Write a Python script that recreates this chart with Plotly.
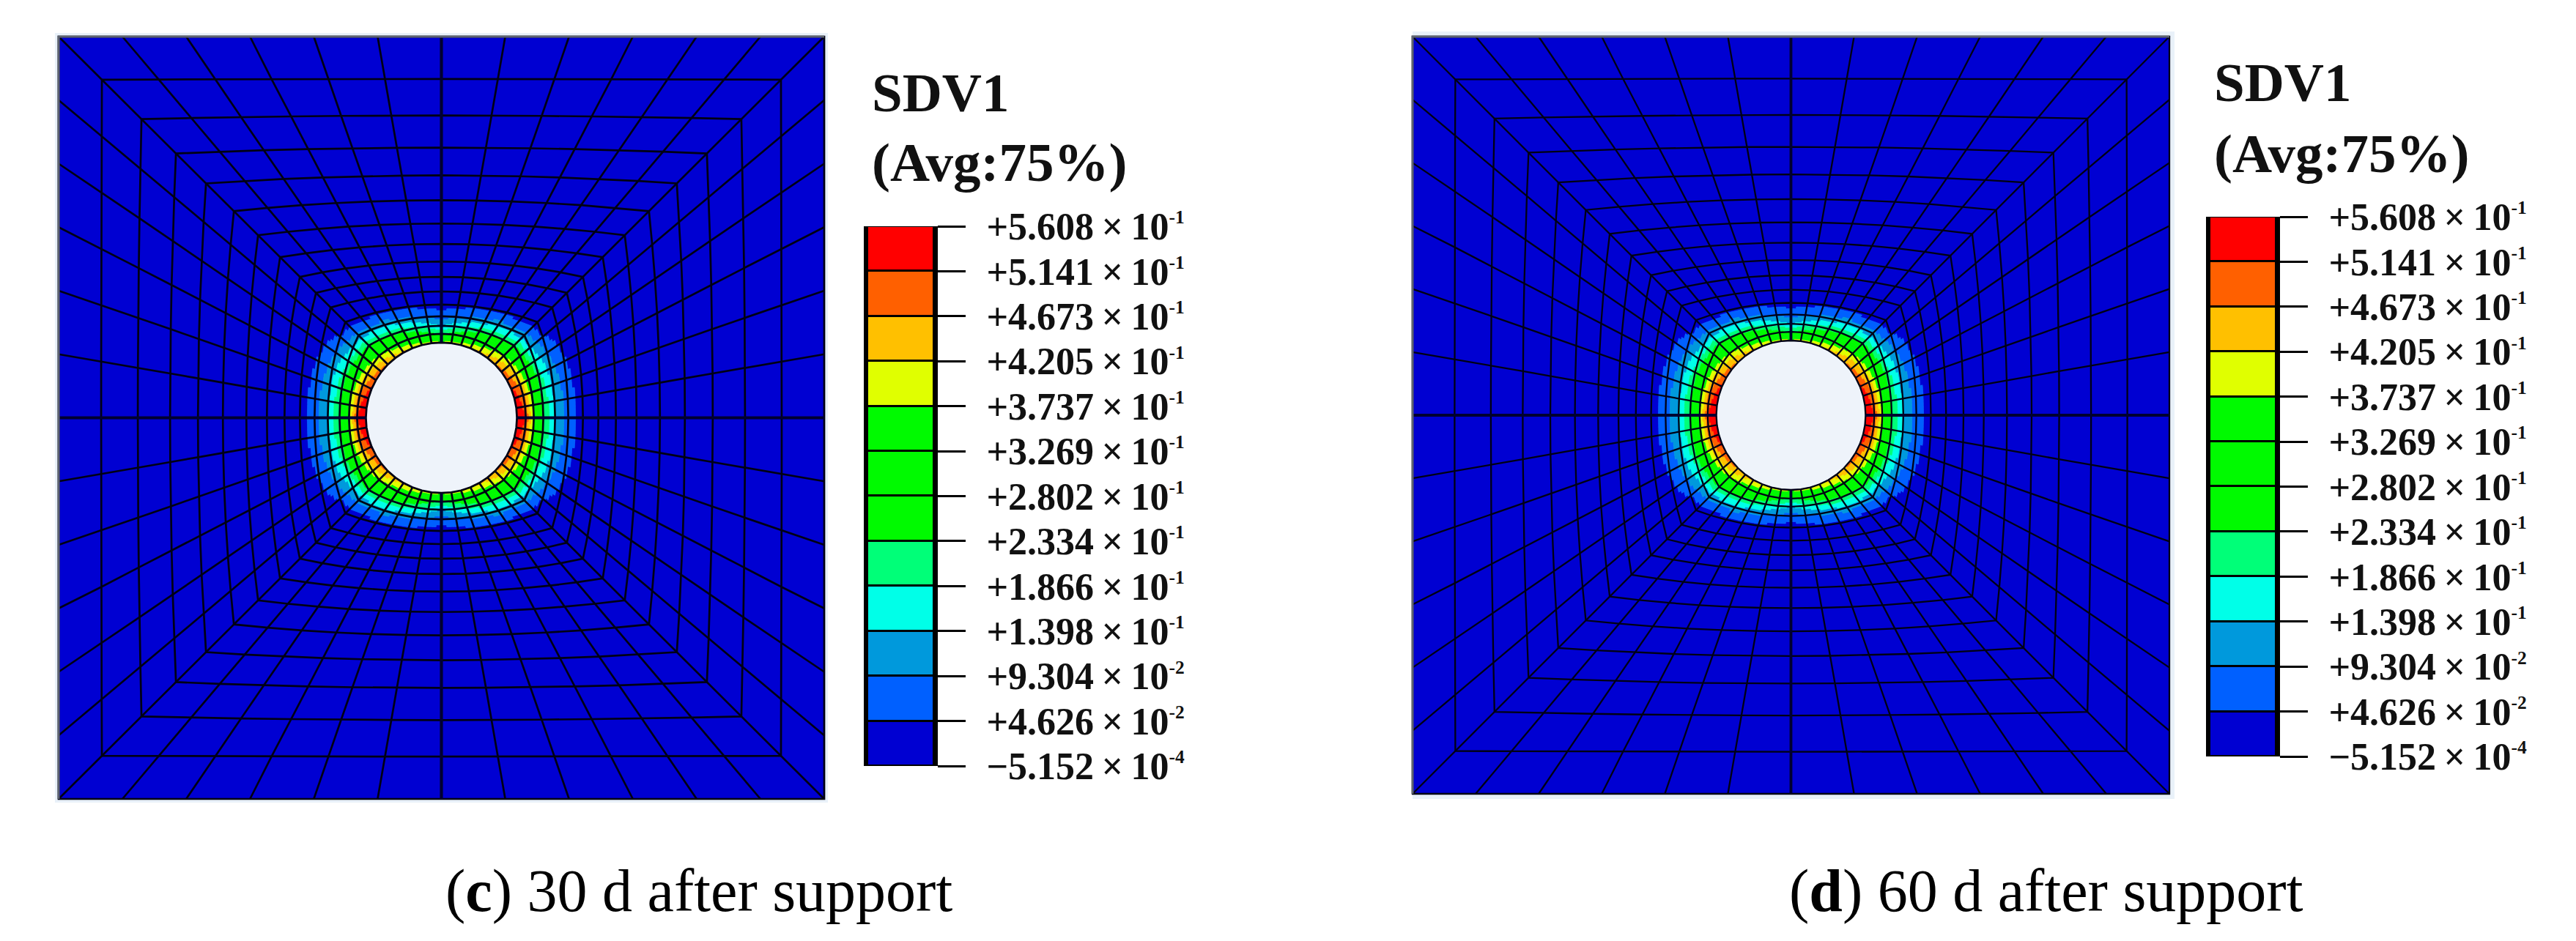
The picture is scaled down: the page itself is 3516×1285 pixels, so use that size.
import math
import plotly.graph_objects as go

W, H = 3516, 1285

# ---- colour scale ----
LEVELS = [-5.152e-4, 4.626e-2, 9.304e-2, 1.398e-1, 1.866e-1, 2.334e-1, 2.802e-1,
          3.269e-1, 3.737e-1, 4.205e-1, 4.673e-1, 5.141e-1, 5.608e-1]
TICK_MANTISSA = ["\u22125.152", "+4.626", "+9.304", "+1.398", "+1.866", "+2.334", "+2.802",
                 "+3.269", "+3.737", "+4.205", "+4.673", "+5.141", "+5.608"]
TICK_EXPONENT = ["-4", "-2", "-2", "-1", "-1", "-1", "-1", "-1", "-1", "-1", "-1", "-1", "-1"]
BAND_COLORS = ["#0000D2", "#0060FF", "#0099DC", "#00FFE8", "#00FF78", "#00FA00", "#00FA00",
               "#00FA00", "#E0FF00", "#FFC000", "#FF6000", "#FF0000"]

# ---- mesh (outermost ring first) ----
RING_AXIS_RADIUS = [522, 464, 414, 370, 332, 298, 266, 238, 214, 193, 173, 155, 139, 126, 115, 103]
RING_CORNER_HALF = [522, 463, 409, 362, 321, 283, 250, 220, 193, 171, 151, 131, 113, 99, 85, 73]
ELEMENTS_PER_SIDE = 12

# ---- SDV1 nodal level (in legend bands), horizontal axis -> vertical axis ----
FIELD_RING_15 = [12.0, 12.0, 11.8, 11.2, 10.8, 10.4, 10.0, 9.7, 9.3, 8.9, 8.6, 8.4, 8.2]
FIELD_RING_14 = [10.8, 10.6, 10.2, 9.6, 9.0, 8.5, 8.0, 7.6, 7.0, 6.5, 6.0, 5.4, 4.8]
FIELD_RING_13 = [7.9, 7.7, 7.4, 7.0, 6.4, 5.6, 5.0, 5.0, 4.9, 4.6, 4.1, 3.5, 3.0]
FIELD_RING_12 = [5.0, 4.9, 4.7, 4.4, 3.8, 3.0, 2.2, 2.4, 2.5, 2.4, 2.1, 1.7, 1.4]
FIELD_RING_11 = [3.0, 2.9, 2.7, 2.4, 1.9, 1.0, 0.3, 0.4, 0.6, 0.7, 0.7, 0.7, 0.6]
FIELD_RING_10 = [1.5, 1.5, 1.3, 1.1, 0.7, 0.2, 0.0, 0.0, 0.1, 0.1, 0.05, 0.0, 0.0]
FIELD_RING_9 = [0.5, 0.5, 0.4, 0.3, 0.1, 0.0, 0.0, 0.0, 0.0, 0.0, 0.0, 0.0, 0.0]
FIELD = {15: FIELD_RING_15, 14: FIELD_RING_14, 13: FIELD_RING_13, 12: FIELD_RING_12,
         11: FIELD_RING_11, 10: FIELD_RING_10, 9: FIELD_RING_9}

# ---- text ----
CAPTION_LETTERS = ["c", "d"]
CAPTION_TEXTS = [" 30 d after support", " 60 d after support"]
LEGEND_TITLE = ["SDV1", "(Avg:75%)"]

HOLE_COLOR = "#EEF3FA"
HALO_COLOR = "#E9F1F9"
FRAME_COLOR = "#5E6470"

# ---- layout of each panel, in page pixels ----
PANELS = [
    dict(cx=602.5, cy=570.5, sx=522.5 / 522, sy=520.5 / 522,
         bar=(1184, 1275), bar_y=(309, 1046), title_x=1188, title_y=(127, 221),
         cap_x=606, line=2.7, halo=(-527, 527, -527, 527)),
    dict(cx=2444.5, cy=567, sx=516.5 / 522, sy=517 / 522,
         bar=(3016, 3107), bar_y=(296, 1033), title_x=3020, title_y=(112, 210),
         cap_x=2440, line=2.3, halo=(-522, 529, -529, 529)),
]
RANGE = 535
CAP_Y = 1216


def node(k, i):
    """Position of ring k, node i (0 = top, clockwise)."""
    r, c = RING_AXIS_RADIUS[k], RING_CORNER_HALF[k]
    a = (r - c) / (1 - math.sqrt(0.5))
    b = r - a
    i %= 4 * ELEMENTS_PER_SIDE
    side = ((i + ELEMENTS_PER_SIDE // 2) // ELEMENTS_PER_SIDE)
    j = i - ELEMENTS_PER_SIDE * side
    th = math.radians(j * 360 / (4 * ELEMENTS_PER_SIDE))
    x = a * math.sin(th) + b * j / (ELEMENTS_PER_SIDE / 2)
    y = a * math.cos(th) + b
    for _ in range(side % 4):
        x, y = y, -x
    return x, y


def level(k, i):
    row = FIELD.get(k)
    if row is None:
        return 0.0
    d = i % (2 * ELEMENTS_PER_SIDE)
    d = min(d, 2 * ELEMENTS_PER_SIDE - d)
    return row[ELEMENTS_PER_SIDE - d]


def mesh_polys():
    xs = [[] for _ in BAND_COLORS]
    ys = [[] for _ in BAND_COLORS]
    n = 4 * ELEMENTS_PER_SIDE
    for k in range(len(RING_AXIS_RADIUS) - 1):
        for i in range(n):
            corners = [node(k, i), node(k, i + 1), node(k + 1, i + 1), node(k + 1, i)]
            vals = [level(k, i), level(k, i + 1), level(k + 1, i + 1), level(k + 1, i)]
            m = 6 if max(vals) > 0 else 1

            def lerp(u, v, src):
                return ((1 - u) * (1 - v) * src[0] + u * (1 - v) * src[1]
                        + u * v * src[2] + (1 - u) * v * src[3])

            for a in range(m):
                for b in range(m):
                    u0, u1, v0, v1 = a / m, (a + 1) / m, b / m, (b + 1) / m
                    val = lerp((u0 + u1) / 2, (v0 + v1) / 2, vals)
                    band = max(0, min(len(BAND_COLORS) - 1, int(math.floor(val))))
                    for u, v in [(u0, v0), (u1, v0), (u1, v1), (u0, v1), (u0, v0)]:
                        xs[band].append(lerp(u, v, [p[0] for p in corners]))
                        ys[band].append(lerp(u, v, [p[1] for p in corners]))
                    xs[band].append(None)
                    ys[band].append(None)
    return xs, ys


def mesh_lines():
    xs, ys = [], []
    n = 4 * ELEMENTS_PER_SIDE
    last = len(RING_AXIS_RADIUS) - 1
    for k in range(last + 1):
        for i in range(n + 1):
            x, y = node(k, i)
            xs.append(x)
            ys.append(y)
        xs.append(None)
        ys.append(None)
    for i in range(n):
        for k in range(last + 1):
            x, y = node(k, i)
            xs.append(x)
            ys.append(y)
        xs.append(None)
        ys.append(None)
    return xs, ys


def axis_lines():
    xs, ys = [], []
    for i in range(0, 48, 12):
        for k in (0, len(RING_AXIS_RADIUS) - 1):
            x, y = node(k, i)
            xs.append(x)
            ys.append(y)
        xs.append(None)
        ys.append(None)
    return xs, ys


poly_x, poly_y = mesh_polys()
line_x, line_y = mesh_lines()
ax_x, ax_y = axis_lines()
hole = [node(len(RING_AXIS_RADIUS) - 1, i) for i in range(49)]

tick_text = [f"{m}\u2009\u00d7\u200910<sup><span style=\"font-size:70%\">{e}</span></sup>"
             for m, e in zip(TICK_MANTISSA, TICK_EXPONENT)]

fig = go.Figure()
layout = dict(width=W, height=H, margin=dict(l=0, r=0, t=0, b=0, pad=0, autoexpand=False),
              autosize=False,
              paper_bgcolor="white", plot_bgcolor="rgba(0,0,0,0)", showlegend=False,
              barmode="overlay", bargap=0, annotations=[])

for idx, P in enumerate(PANELS):
    mx = "x" if idx == 0 else f"x{idx * 2 + 1}"
    my = "y" if idx == 0 else f"y{idx * 2 + 1}"
    bx = f"x{idx * 2 + 2}"
    by = f"y{idx * 2 + 2}"
    # ---- contour plot ----
    h0, h1, h2, h3 = P["halo"]
    fig.add_trace(go.Scatter(x=[h0, h1, h1, h0, h0], y=[h2, h2, h3, h3, h2], xaxis=mx, yaxis=my,
                             mode="lines", fill="toself", fillcolor=HALO_COLOR, line=dict(width=0),
                             hoverinfo="skip"))
    for band, color in enumerate(BAND_COLORS):
        fig.add_trace(go.Scatter(x=poly_x[band], y=poly_y[band], xaxis=mx, yaxis=my, mode="lines",
                                 fill="toself", fillcolor=color, line=dict(color=color, width=0.7),
                                 hoverinfo="skip"))
    fig.add_trace(go.Scatter(x=[p[0] for p in hole], y=[p[1] for p in hole], xaxis=mx, yaxis=my,
                             mode="lines", fill="toself", fillcolor=HOLE_COLOR,
                             line=dict(color="#6B6B6B", width=1.5), line_shape="spline",
                             hoverinfo="skip"))
    fig.add_trace(go.Scatter(x=line_x, y=line_y, xaxis=mx, yaxis=my, mode="lines",
                             line=dict(color="#000014", width=P["line"]), hoverinfo="skip"))
    fig.add_trace(go.Scatter(x=ax_x, y=ax_y, xaxis=mx, yaxis=my, mode="lines",
                             line=dict(color="#000030", width=P["line"] + 1.5), hoverinfo="skip"))
    o = RING_AXIS_RADIUS[0]
    fig.add_trace(go.Scatter(x=[-o, -o, o], y=[-o, o, o], xaxis=mx, yaxis=my, mode="lines",
                             line=dict(color=FRAME_COLOR, width=3), hoverinfo="skip"))
    dom_x = [(P["cx"] - RANGE * P["sx"]) / W, (P["cx"] + RANGE * P["sx"]) / W]
    dom_y = [1 - (P["cy"] + RANGE * P["sy"]) / H, 1 - (P["cy"] - RANGE * P["sy"]) / H]
    hidden = dict(visible=False, range=[-RANGE, RANGE], fixedrange=True)
    layout["xaxis" if idx == 0 else f"xaxis{idx * 2 + 1}"] = dict(hidden, domain=dom_x, anchor=my)
    layout["yaxis" if idx == 0 else f"yaxis{idx * 2 + 1}"] = dict(hidden, domain=dom_y, anchor=mx)

    # ---- legend colour bar, a real axis with the levels as ticks ----
    fig.add_trace(go.Bar(x=[0] * len(BAND_COLORS),
                         y=[LEVELS[i + 1] - LEVELS[i] for i in range(len(BAND_COLORS))],
                         base=LEVELS[:-1], width=1, xaxis=bx, yaxis=by,
                         marker=dict(color=BAND_COLORS, line=dict(color="black", width=3)),
                         hoverinfo="skip"))
    layout[f"xaxis{idx * 2 + 2}"] = dict(visible=False, range=[-0.5, 0.5], fixedrange=True,
                                         domain=[P["bar"][0] / W, P["bar"][1] / W], anchor=by)
    layout[f"yaxis{idx * 2 + 2}"] = dict(
        range=[LEVELS[0], LEVELS[-1]], domain=[1 - P["bar_y"][1] / H, 1 - P["bar_y"][0] / H],
        anchor=bx, side="right", showgrid=False, zeroline=False, fixedrange=True,
        showline=True, mirror=True, linecolor="black", linewidth=5,
        ticks="outside", ticklen=38, tickwidth=3, tickcolor="black",
        tickmode="array", tickvals=LEVELS, ticktext=tick_text, ticklabelstandoff=18,
        tickfont=dict(family="Liberation Serif", size=52, color="#111111", weight=700))

    # ---- legend title and caption ----
    for text, y in zip(LEGEND_TITLE, P["title_y"]):
        layout["annotations"].append(dict(
            text=text, xref="paper", yref="paper", x=P["title_x"] / W, y=1 - y / H,
            xanchor="left", yanchor="middle", showarrow=False, align="left",
            font=dict(family="Liberation Serif", size=75, color="#111111", weight=700)))
    layout["annotations"].append(dict(
        text=f"(<b>{CAPTION_LETTERS[idx]}</b>){CAPTION_TEXTS[idx]}", xref="paper", yref="paper",
        x=P["cap_x"] / W, y=1 - CAP_Y / H, xanchor="left", yanchor="middle", showarrow=False,
        font=dict(family="Liberation Serif", size=82, color="black")))

fig.update_layout(**layout)
fig.write_html("out.html", config={"displayModeBar": False},
               post_script="document.body.style.margin='0';document.documentElement.style.overflow='hidden';")
